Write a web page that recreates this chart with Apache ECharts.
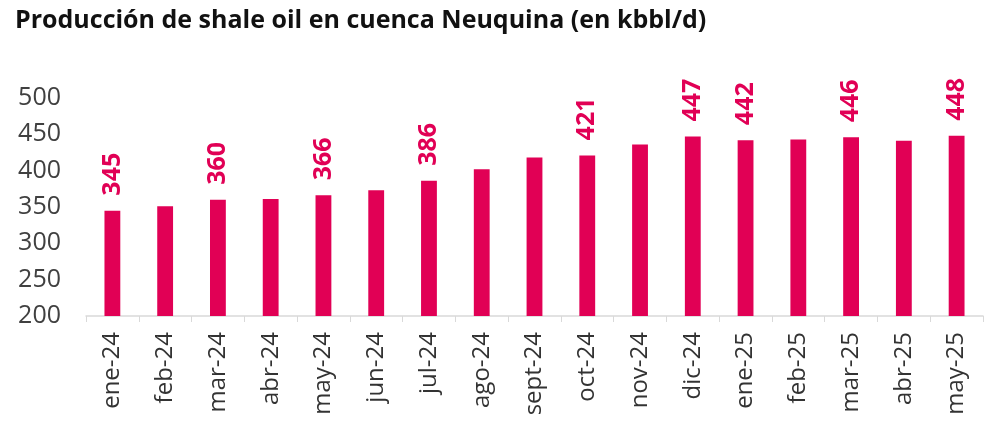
<!DOCTYPE html>
<html>
<head>
<meta charset="utf-8">
<script src="https://cdn.jsdelivr.net/npm/echarts@6/dist/echarts.min.js"></script>
<style>
html,body{margin:0;padding:0;background:#fff;}
#c{width:992px;height:442px;}
</style>
</head>
<body>
<div id="c"></div>
<script>
const categories = ['ene-24','feb-24','mar-24','abr-24','may-24','jun-24','jul-24','ago-24','sept-24','oct-24','nov-24','dic-24','ene-25','feb-25','mar-25','abr-25','may-25'];
const values = [345,351,360,361,366,373,386,402,418,421,436,447,442,443,446,441,448];
const showLabel = [true,false,true,false,true,false,true,false,false,true,false,true,true,false,true,false,true];
const yTicks = [200,250,300,350,400,450,500];

const FONT = '"Open Sans", "Noto Sans", sans-serif';
const chart = echarts.init(document.getElementById('c'));
chart.setOption({
  animation: false,
  title: {
    text: 'Producción de shale oil en cuenca Neuquina (en kbbl/d)',
    left: 10, top: 3,
    textStyle: { fontFamily: FONT, fontWeight: 'bold', fontSize: 25, color: '#111' }
  },
  grid: { left: 86, right: 9, top: 98, bottom: 126, containLabel: false },
  xAxis: {
    type: 'category',
    data: categories,
    axisLine: { show: true, lineStyle: { color: '#d9d9d9', width: 1.5 } },
    axisTick: { show: true, length: 6, lineStyle: { color: '#d9d9d9' } },
    axisLabel: { rotate: 90, margin: 16, fontFamily: FONT, fontSize: 24, color: '#333', interval: 0 }
  },
  yAxis: {
    type: 'value',
    min: yTicks[0], max: yTicks[yTicks.length - 1], interval: 50,
    axisLine: { show: false },
    axisTick: { show: false },
    splitLine: { show: false },
    axisLabel: { margin: 25, fontFamily: FONT, fontSize: 25, color: '#404040' }
  },
  series: [{
    type: 'bar',
    barWidth: '30%',
    itemStyle: { color: '#E10055' },
    data: values.map((v, i) => ({
      value: v,
      label: {
        show: showLabel[i],
        position: 'top',
        rotate: 90,
        align: 'left',
        verticalAlign: 'middle',
        distance: 15,
        fontFamily: FONT,
        fontWeight: 'bold',
        fontSize: 25,
        color: '#E10055'
      }
    }))
  }]
});
</script>
</body>
</html>
